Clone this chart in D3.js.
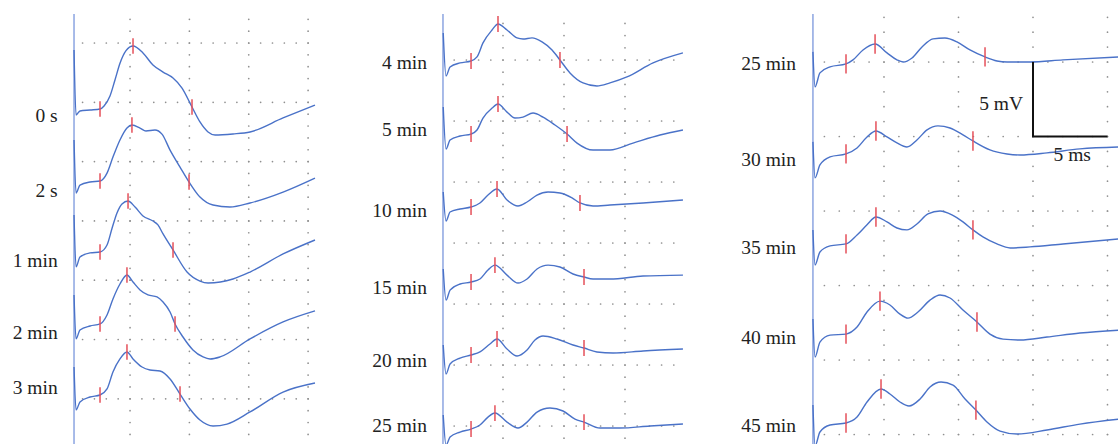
<!DOCTYPE html>
<html>
<head>
<meta charset="utf-8">
<script src="https://cdn.jsdelivr.net/npm/d3@7"></script>
<style>
  body { margin: 0; background: #fff; }
  svg { display: block; }
  .label { font-family: "Liberation Serif", "DejaVu Serif", serif; font-size: 19.5px; fill: #222; }
</style>
</head>
<body>
<svg id="chart" width="1118" height="444"></svg>
<script>
// ---- data : time in ms, amplitude in mV (relative to each trace baseline) ----

// panel 1
var p1Names = ["0 s", "2 s", "1 min", "2 min", "3 min"];
var p1Offsets = [-5.65, -11.64, -17.62, -23.69, -29.68];
var p1LabelLevels = [-6.07, -12.39, -18.30, -24.37, -29.00];
var p1Waves = [
  [[0.28,5.06],[0.45,-0.42],[0.78,-0.08],[1.63,0],[2.47,0.08],[2.81,0.34],[3.31,1.18],[3.73,2.53],[4.16,3.96],[4.66,5.0],[5.25,5.40],[6.09,4.81],[6.93,3.79],[7.78,3.20],[8.62,2.70],[9.38,1.85],[10.22,0.25],[10.89,-1.01],[11.57,-1.85],[12.16,-2.11],[13.67,-2.02],[15.11,-1.85],[17.89,-0.67],[20.58,0.42]],
  [[0.28,3.46],[0.45,-1.01],[0.78,-0.34],[1.63,-0.08],[2.47,0],[3.06,0.67],[3.56,2.02],[4.15,3.46],[4.74,4.47],[5.16,4.72],[5.84,4.47],[6.34,4.22],[7.10,4.30],[7.69,3.96],[8.37,2.61],[9.21,1.18],[9.97,-0.08],[10.89,-1.35],[11.99,-2.02],[13.42,-2.19],[15.11,-1.85],[17.89,-0.93],[20.58,0.25]],
  [[0.28,3.12],[0.45,-1.26],[0.78,-0.42],[1.63,-0.08],[2.47,0],[3.06,0.59],[3.49,2.02],[3.90,3.29],[4.32,4.05],[4.83,4.30],[5.42,3.79],[6.09,3.04],[6.93,2.61],[7.35,2.28],[7.78,1.52],[8.62,0.17],[9.80,-1.69],[10.89,-2.45],[11.57,-2.61],[13.67,-2.28],[15.11,-1.69],[17.89,-0.17],[20.58,1.01]],
  [[0.28,2.45],[0.45,-1.26],[0.78,-0.51],[1.63,-0.17],[2.47,0],[3.06,0.76],[3.56,2.11],[4.15,3.37],[4.74,4.13],[5.25,3.54],[5.84,2.87],[6.51,2.45],[7.27,2.28],[7.78,1.85],[8.37,1.01],[8.79,0],[9.46,-1.10],[10.30,-2.19],[11.15,-2.78],[11.74,-2.95],[12.58,-2.78],[15.11,-1.26],[17.89,0.17],[20.58,1.10]],
  [[0.28,2.36],[0.45,-1.26],[0.78,-0.59],[1.63,-0.17],[2.47,0],[3.06,0.51],[3.56,1.94],[4.15,3.04],[4.74,3.63],[5.25,3.04],[6.01,2.36],[6.68,2.11],[7.52,2.02],[8.37,1.35],[9.21,0.08],[10.05,-1.18],[10.89,-2.11],[11.99,-2.61],[13.17,-2.45],[15.11,-1.43],[17.89,0.25],[20.58,1.01]]
];
var p1Marks = [[2.47,5.25,10.22],[2.47,5.16,9.97],[2.47,4.83,8.62],[2.47,4.74,8.79],[2.47,4.74,9.21]];

// panel 2
var p2Names = ["4 min", "5 min", "10 min", "15 min", "20 min", "25 min"];
var p2Offsets = [-0.08, -6.07, -12.05, -18.20, -24.18, -30.25];
var p2LabelLevels = [-0.16, -5.66, -12.30, -18.61, -24.59, -29.92];
var p2Waves = [
  [[0.1,2.30],[0.33,-1.23],[0.66,-0.49],[1.48,-0.16],[2.38,0],[2.87,0.33],[3.36,1.48],[4.10,2.54],[4.59,3.03],[5.33,2.54],[6.15,1.89],[6.64,1.80],[7.38,1.89],[8.20,1.56],[9.02,0.90],[9.67,0.08],[10.49,-0.98],[11.56,-1.80],[12.70,-2.05],[13.77,-1.80],[15.16,-1.31],[17.30,-0.16],[19.75,0.66]],
  [[0.1,2.21],[0.33,-1.23],[0.66,-0.49],[1.48,-0.16],[2.38,0],[2.87,0.33],[3.36,1.31],[4.10,2.13],[4.59,2.46],[5.33,1.80],[5.98,1.31],[6.64,1.39],[7.46,1.72],[8.28,1.39],[9.26,0.74],[10.25,0],[11.07,-0.74],[12.38,-1.31],[13.77,-1.31],[15.66,-0.74],[17.87,-0.08],[19.75,0.33]],
  [[0.1,1.23],[0.33,-1.15],[0.66,-0.41],[1.48,-0.16],[2.38,0],[3.11,0.33],[3.77,0.98],[4.51,1.48],[5.33,0.57],[6.23,0.08],[6.97,0.41],[7.79,0.98],[8.69,1.23],[9.67,1.15],[10.66,0.74],[11.31,0.33],[12.38,0.08],[13.77,0.16],[16.48,0.33],[19.75,0.57]],
  [[0.1,1.07],[0.33,-1.48],[0.66,-0.66],[1.48,-0.16],[2.38,0],[3.11,0.25],[3.77,0.98],[4.34,1.39],[5.33,0.57],[6.23,-0.08],[6.97,0.25],[7.79,1.07],[8.69,1.39],[9.67,1.23],[10.74,0.66],[11.64,0.41],[12.38,0.25],[13.77,0.25],[16.48,0.49],[19.75,0.57]],
  [[0.1,0.82],[0.33,-1.56],[0.66,-0.74],[1.48,-0.25],[2.38,0],[3.11,0.25],[3.93,0.90],[4.51,1.31],[5.33,0.49],[6.15,-0.08],[6.97,0.41],[7.62,1.23],[8.28,1.56],[9.43,1.31],[10.74,0.82],[11.64,0.57],[12.70,0.25],[14.02,0.16],[16.48,0.33],[19.75,0.49]],
  [[0.1,1.15],[0.33,-1.31],[0.66,-0.66],[1.48,-0.25],[2.38,0],[3.11,0.33],[3.77,0.98],[4.34,1.31],[5.33,0.57],[6.23,0.08],[6.97,0.57],[7.79,1.39],[8.85,1.72],[9.92,1.48],[10.90,0.82],[11.64,0.57],[12.95,0.08],[14.59,0.08],[17.05,0.25],[19.75,0.41]]
];
var p2Marks = [[2.38,4.59,9.67],[2.38,4.59,10.25],[2.38,4.51,11.31],[2.38,4.34,11.64],[2.38,4.51,11.64],[2.38,4.34,11.64]];

// panel 3
var p3Names = ["25 min", "30 min", "35 min", "40 min", "45 min"];
var p3Offsets = [-0.13, -6.17, -12.21, -18.26, -24.23];
var p3LabelLevels = [-0.07, -6.51, -12.42, -18.46, -24.36];
var p3Waves = [
  [[0.23,0.81],[0.37,-1.54],[0.70,-0.60],[1.38,-0.20],[2.45,0],[2.92,0.27],[3.59,0.94],[4.40,1.34],[5.20,0.74],[5.87,0.27],[6.28,0.13],[6.88,0.40],[7.55,1.14],[8.29,1.68],[9.09,1.74],[9.90,1.48],[10.77,0.94],[11.78,0.47],[12.58,0.20],[13.26,0.13],[14.80,0.13],[17.01,0.27],[20.84,0.47]],
  [[0.23,0.81],[0.37,-1.61],[0.70,-0.74],[1.38,-0.20],[2.45,0],[3.19,0.40],[3.86,1.14],[4.46,1.54],[5.20,1.14],[5.87,0.74],[6.54,0.47],[7.21,0.94],[7.89,1.61],[8.62,1.88],[9.43,1.74],[10.30,1.28],[10.97,0.87],[12.11,0.27],[13.26,0],[14.13,-0.07],[15.94,0.07],[18.15,0.34],[20.84,0.47]],
  [[0.23,0.94],[0.37,-1.41],[0.70,-0.54],[1.38,-0.13],[2.45,0],[3.19,0.60],[3.86,1.28],[4.46,1.81],[5.20,1.48],[5.87,1.07],[6.54,0.94],[7.21,1.34],[7.95,2.01],[8.76,2.21],[9.56,1.95],[10.30,1.48],[10.97,0.94],[11.64,0.47],[12.58,0],[13.46,-0.27],[14.80,-0.20],[17.01,0],[20.84,0.34]],
  [[0.23,1.01],[0.37,-1.54],[0.70,-0.54],[1.38,-0.07],[2.45,0],[3.19,0.47],[3.86,1.48],[4.73,2.21],[5.40,1.95],[6.07,1.34],[6.61,1.07],[7.28,1.48],[8.09,2.28],[8.76,2.62],[9.43,2.42],[10.30,1.61],[11.24,0.81],[12.11,0],[12.99,-0.34],[14.13,-0.40],[15.94,-0.20],[18.15,0.07],[20.84,0.27]],
  [[0.23,1.21],[0.37,-1.54],[0.70,-0.60],[1.38,-0.13],[2.45,0],[3.19,0.40],[3.86,1.41],[4.80,2.28],[5.40,1.95],[6.07,1.41],[6.68,1.14],[7.42,1.61],[8.09,2.42],[8.83,2.75],[9.63,2.55],[10.44,1.61],[11.17,0.87],[11.91,0.07],[12.79,-0.54],[13.93,-0.74],[15.94,-0.47],[18.15,-0.07],[20.84,0.27]]
];
var p3Marks = [[2.45,4.40,11.78],[2.45,4.46,10.97],[2.45,4.46,10.97],[2.45,4.73,11.24],[2.45,4.80,11.17]];

// grid (5 ms x 5 mV), scale bar
var gridMs = [[5,10,15,20],[5,10,15],[5,10,15,20]];
var gridMv = [[0,-5,-10,-15,-20,-25,-30],[0,-5,-10,-15,-20,-25,-30],[0,-5,-10,-15,-20,-25,-30]];
var dotMsRange = [[1,20],[1,19],[1,21]];
var dotMvRange = [[2,-35],[3,-33],[3,-27]];
var scaleBarMs = 5, scaleBarMv = 5;

// ---- layout (pixels) ----
var layout = [
  {x0: 70.7, kx: 11.87, y0: 43, ky: 11.86, axisT: 0.28, labelGap: 13},
  {x0: 442, kx: 12.2, y0: 60, ky: 12.2, axisT: 0.08, labelGap: 15},
  {x0: 809.5, kx: 14.9, y0: 62, ky: 14.9, axisT: 0.23, labelGap: 13.5}
];
var panels = [
  {names: p1Names, offsets: p1Offsets, labels: p1LabelLevels, waves: p1Waves, marks: p1Marks},
  {names: p2Names, offsets: p2Offsets, labels: p2LabelLevels, waves: p2Waves, marks: p2Marks},
  {names: p3Names, offsets: p3Offsets, labels: p3LabelLevels, waves: p3Waves, marks: p3Marks}
];

var traceColor = "#4a72c8";
var markColor = "#e5505a";
var svg = d3.select("#chart");

// find the y of a drawn path at a given x (path is monotone in x)
function yAtX(node, x) {
  var lo = 0, hi = node.getTotalLength();
  for (var i = 0; i < 40; i++) {
    var mid = (lo + hi) / 2;
    if (node.getPointAtLength(mid).x < x) lo = mid; else hi = mid;
  }
  return node.getPointAtLength(hi).y;
}

panels.forEach(function(p, pi) {
  var L = layout[pi];
  var x = d3.scaleLinear().domain([0, 20]).range([L.x0, L.x0 + 20 * L.kx]);
  var y = d3.scaleLinear().domain([0, -30]).range([L.y0, L.y0 + 30 * L.ky]);
  var g = svg.append("g");

  // dotted grid : one dot per ms on the horizontal lines, one per mV on the vertical ones
  var dots = [];
  var msList = d3.range(dotMsRange[pi][0], dotMsRange[pi][1] + 1);
  var mvList = d3.range(dotMvRange[pi][0], dotMvRange[pi][1] - 1, -1);
  gridMv[pi].forEach(function(v) { msList.forEach(function(t) { dots.push([t, v]); }); });
  gridMs[pi].forEach(function(t) { mvList.forEach(function(v) { dots.push([t, v]); }); });
  g.selectAll("circle.dot").data(dots).enter().append("circle")
    .attr("class", "dot")
    .attr("cx", function(d) { return x(d[0]); })
    .attr("cy", function(d) { return y(d[1]); })
    .attr("r", 0.85)
    .attr("fill", "#8f8f8f");

  // left axis line
  g.append("line")
    .attr("x1", x(L.axisT)).attr("x2", x(L.axisT))
    .attr("y1", 14).attr("y2", 444)
    .attr("stroke", "#9fb4e6").attr("stroke-width", 1.8);

  var line = d3.line()
    .x(function(d) { return x(d[0]); })
    .y(function(d) { return y(d[1]); })
    .curve(d3.curveMonotoneX);

  p.waves.forEach(function(w, i) {
    var off = p.offsets[i];
    var pts = w.map(function(d) { return [d[0], d[1] + off]; });
    var path = g.append("path")
      .attr("d", line(pts))
      .attr("fill", "none")
      .attr("stroke", traceColor)
      .attr("stroke-width", 1.4);

    // red latency marks sitting on the curve
    var node = path.node();
    p.marks[i].forEach(function(t) {
      var cy = yAtX(node, x(t));
      var h = L.ky * 0.65;
      g.append("line")
        .attr("x1", x(t)).attr("x2", x(t))
        .attr("y1", cy - h).attr("y2", cy + h)
        .attr("stroke", markColor).attr("stroke-width", 1.5);
    });

    g.append("text")
      .attr("class", "label")
      .attr("x", L.x0 - L.labelGap)
      .attr("y", y(p.labels[i]))
      .attr("dy", "0.35em")
      .attr("text-anchor", "end")
      .text(p.names[i]);
  });

  // scale bar in last panel
  if (pi === 2) {
    var t0 = 15, v0 = 0;
    g.append("path")
      .attr("d", "M" + x(t0) + "," + y(v0) + "V" + y(v0 - scaleBarMv) + "H" + x(t0 + scaleBarMs))
      .attr("fill", "none").attr("stroke", "#111").attr("stroke-width", 2);
    g.append("text").attr("class", "label")
      .attr("x", x(t0) - 10).attr("y", y(v0 - scaleBarMv / 2 - 0.25)).attr("dy", "0.35em")
      .attr("text-anchor", "end").text(scaleBarMv + " mV");
    g.append("text").attr("class", "label")
      .attr("x", x(t0 + scaleBarMs / 2) + 2).attr("y", y(v0 - scaleBarMv - 1.2)).attr("dy", "0.35em")
      .attr("text-anchor", "middle").text(scaleBarMs + " ms");
  }
});
</script>
</body>
</html>
